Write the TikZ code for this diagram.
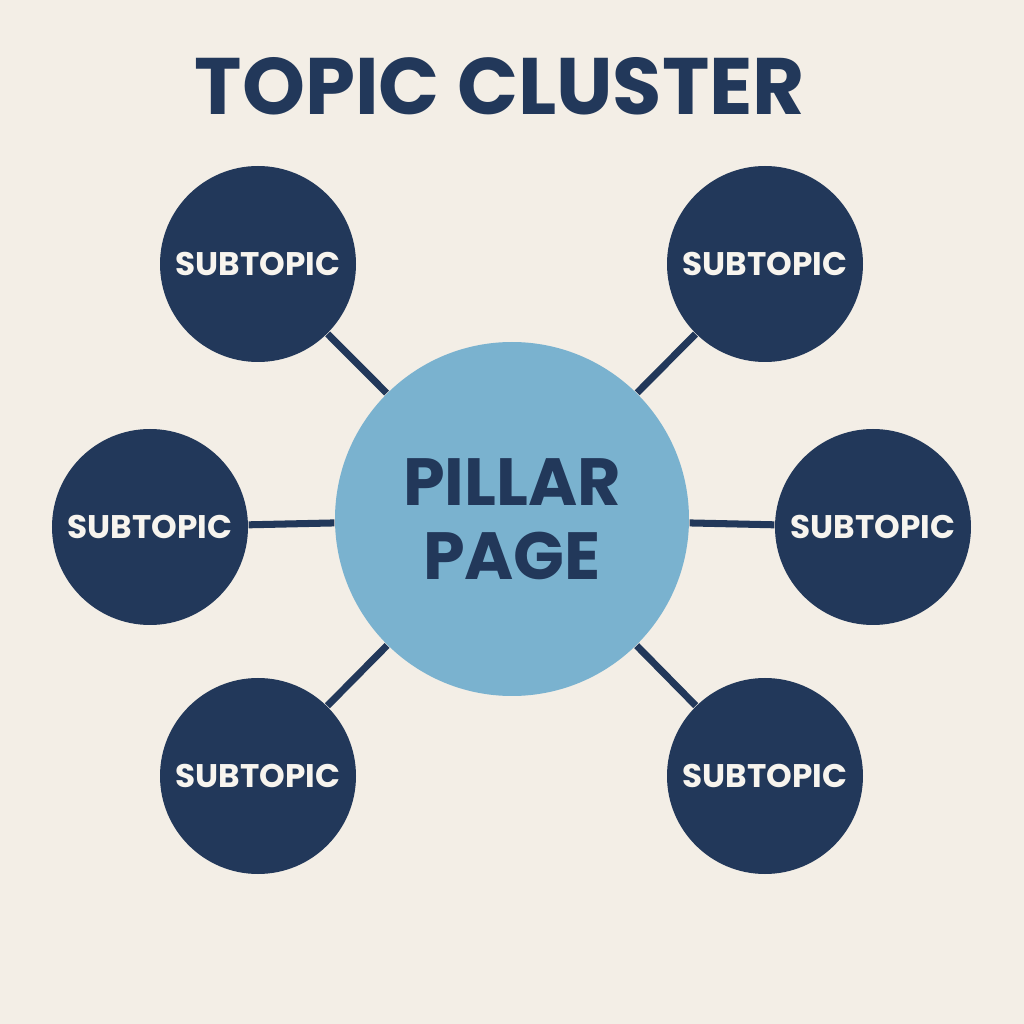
\documentclass[tikz,border=0pt]{standalone}
\usepackage{fontspec}
\setmainfont{Poppins}
\usepackage{tikz}
\usetikzlibrary{positioning, shapes}
\usepackage{xcolor}

\definecolor{paper}{HTML}{F3EEE6}
\definecolor{navy}{HTML}{22385A}
\definecolor{pillarblue}{HTML}{7AB2CF}
\definecolor{offwhite}{HTML}{F7F4EE}

\tikzset{
    pillar/.style={circle, fill=pillarblue, minimum size=3.54cm, inner sep=0pt,
        font=\bfseries\fontsize{19}{24}\selectfont, text=navy, align=center},
    subtopic/.style={circle, fill=navy, minimum size=1.96cm, inner sep=0pt,
        font=\bfseries\fontsize{9.3}{11}\selectfont, text=offwhite},
    link/.style={draw=navy, line width=2pt}
}

\begin{document}
\begin{tikzpicture}
        % Background paper
        \fill[paper] (0,0) rectangle (10.24,10.24);

        % Title
        \node[font=\bfseries\fontsize{22.8}{27}\selectfont, text=navy] (title) at (5.00,9.38) {TOPIC CLUSTER};

        % Central pillar page
        \node[pillar] (pillar) at (5.12,5.05) {PILLAR\\[-3pt]PAGE};

        % Subtopics around the pillar
        \node[subtopic] (topleft) at (2.58,7.60) {SUBTOPIC};
        \node[subtopic] (topright) at (7.65,7.60) {SUBTOPIC};
        \node[subtopic] (midleft) at (1.50,4.97) {SUBTOPIC};
        \node[subtopic] (midright) at (8.73,4.97) {SUBTOPIC};
        \node[subtopic] (botleft) at (2.58,2.48) {SUBTOPIC};
        \node[subtopic] (botright) at (7.65,2.48) {SUBTOPIC};

        % Links from pillar to each subtopic
        \draw[link] (pillar) -- (topleft);
        \draw[link] (pillar) -- (topright);
        \draw[link] (pillar) -- (midleft);
        \draw[link] (pillar) -- (midright);
        \draw[link] (pillar) -- (botleft);
        \draw[link] (pillar) -- (botright);
\end{tikzpicture}
\end{document}
